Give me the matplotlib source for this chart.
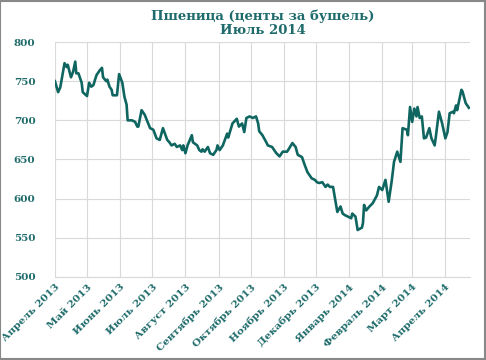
import matplotlib
matplotlib.use("Agg")
import matplotlib.pyplot as plt
import numpy as np
import pandas as pd
from matplotlib.patches import Rectangle

# days since 2013-04-01 and wheat price (cents per bushel)
days = [0, 3, 5, 9, 11, 12, 15, 17, 19, 20, 22, 25, 26, 30, 32, 34, 36, 38, 39, 42,
        44, 45, 48, 49, 51, 53, 54, 58, 60, 63, 65, 67, 68, 72, 75, 77, 78, 81, 84, 86,
        89, 92, 95, 98, 101, 105, 107, 109, 112, 114, 117, 119, 120, 122, 124, 128, 129, 133, 135, 137,
        138, 140, 143, 145, 148, 149, 151, 152, 154, 157, 161, 162, 166, 170, 172, 175, 177, 179, 182, 185,
        188, 190, 191, 194, 198, 199, 203, 207, 210, 213, 217, 218, 222, 225, 227, 231, 233, 236, 240, 243,
        245, 247, 250, 253, 255, 257, 260, 261, 264, 267, 269, 271, 274, 277, 278, 281, 283, 287, 288, 289,
        291, 294, 297, 301, 303, 306, 309, 312, 315, 317, 320, 323, 325, 329, 330, 332, 334, 336, 338, 339,
        341, 343, 345, 347, 350, 352, 355, 356, 359, 362, 365, 367, 369, 372, 373, 375, 376, 380, 381, 384,
        387]
prices = [750, 736, 742, 773, 768, 771, 755, 762, 775, 760, 760, 748, 736, 731, 748, 743, 745, 754, 758, 764,
          767, 755, 750, 752, 743, 739, 732, 732, 759, 748, 730, 720, 700, 700, 698, 692, 692, 713, 707, 700,
          690, 688, 677, 675, 690, 675, 672, 668, 670, 666, 668, 662, 668, 658, 668, 681, 672, 668, 662, 660,
          663, 660, 666, 658, 656, 658, 662, 668, 662, 668, 683, 678, 696, 702, 692, 696, 685, 703, 705, 703,
          705, 696, 686, 681, 671, 668, 666, 658, 654, 660, 660, 662, 671, 666, 656, 653, 645, 634, 626, 624,
          621, 620, 621, 615, 618, 615, 615, 607, 583, 590, 581, 579, 577, 575, 581, 577, 560, 563, 569, 592,
          585, 590, 594, 604, 615, 611, 624, 596, 624, 647, 660, 647, 690, 688, 681, 717, 698, 715, 705, 717,
          703, 705, 677, 678, 690, 677, 668, 678, 711, 696, 677, 685, 709, 711, 709, 719, 713, 739, 737, 722,
          716]

month_labels = ["Апрель 2013", "Май 2013", "Июнь 2013", "Июль 2013", "Август 2013",
                "Сентябрь 2013", "Октябрь 2013", "Ноябрь 2013", "Декабрь 2013",
                "Январь 2014", "Февраль 2014", "Март 2014", "Апрель 2014"]
yticks = [500, 550, 600, 650, 700, 750, 800]
title = "Пшеница (центы за бушель)\nИюль 2014"

start = pd.Timestamp("2013-04-01")
x = start + pd.to_timedelta(days, unit="D")
month_starts = pd.date_range("2013-04-01", periods=len(month_labels), freq="MS")

TEXT = "#1f6b6b"
LINE = "#0f6661"

fig = plt.figure(figsize=(4.86, 3.6), dpi=100)
ax = fig.add_axes([0.113, 0.2306, 0.854, 0.6527])

ax.plot(x, prices, color=LINE, lw=1.9, solid_joinstyle="round")

ax.set_xlim(start, start + pd.Timedelta(days=388))
ax.set_ylim(500, 800)
ax.set_yticks(yticks)
ax.set_xticks(month_starts)
ax.set_xticklabels(month_labels, rotation=45, ha="right", rotation_mode="anchor")

ax.grid(True, color="#d9d9d9", lw=0.8)
ax.set_axisbelow(True)
for s in ["top", "right", "left"]:
    ax.spines[s].set_visible(False)
ax.spines["bottom"].set_color("#d9d9d9")
ax.tick_params(length=0)
ax.tick_params(axis="x", pad=4)
ax.tick_params(axis="y", pad=14)
for lab in ax.get_xticklabels() + ax.get_yticklabels():
    lab.set_fontfamily("DejaVu Serif")
    lab.set_fontweight("bold")
    lab.set_color(TEXT)
    lab.set_fontsize(7.5)

fig.text(0.541, 0.935, title, ha="center", va="center", family="DejaVu Serif",
         fontweight="bold", fontsize=9.5, color=TEXT, linespacing=1.1)

fig.patches.append(Rectangle((0.001, 0.002), 0.997, 0.996, transform=fig.transFigure,
                             fill=False, edgecolor="#888888", lw=1.5))

fig.savefig("out.png", dpi=100)
